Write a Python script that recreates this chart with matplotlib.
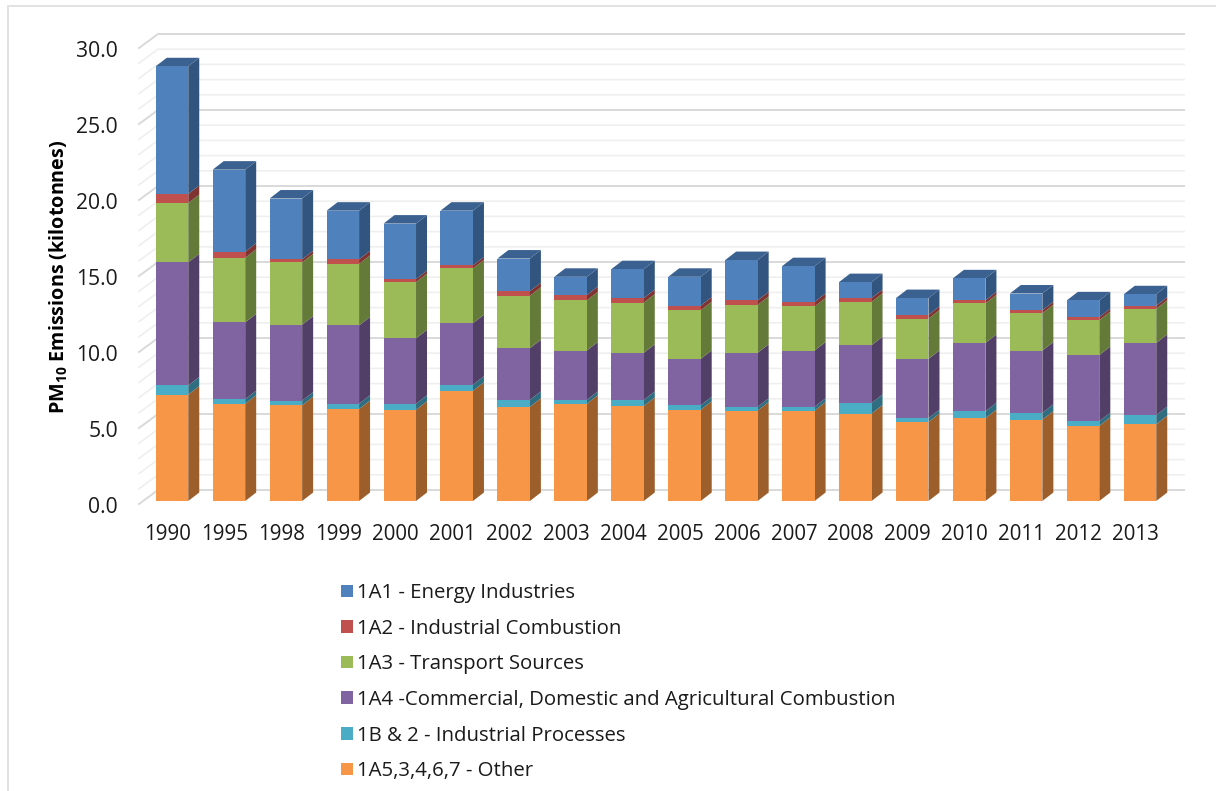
"""PM10 emissions by source sector, drawn as stacked columns with a 3D look."""

import matplotlib

matplotlib.use("Agg")

import matplotlib.pyplot as plt
from matplotlib.lines import Line2D
from matplotlib.patches import Patch
from matplotlib.transforms import ScaledTranslation

plt.rcParams["font.family"] = ["Open Sans", "DejaVu Sans"]
plt.rcParams["mathtext.fontset"] = "custom"
plt.rcParams["mathtext.bf"] = "Open Sans:bold"

W, H = 1216, 791
DPI = 100

years = ["1990", "1995", "1998", "1999", "2000", "2001", "2002", "2003", "2004",
         "2005", "2006", "2007", "2008", "2009", "2010", "2011", "2012", "2013"]

# kilotonnes per sector, bottom of the stack first
other = [7.0, 6.4, 6.3, 6.05, 6.0, 7.25, 6.2, 6.4, 6.25,
         6.0, 5.95, 5.95, 5.75, 5.2, 5.45, 5.35, 4.95, 5.05]
processes = [0.6, 0.3, 0.3, 0.35, 0.4, 0.4, 0.45, 0.25, 0.4,
             0.3, 0.25, 0.25, 0.7, 0.25, 0.45, 0.45, 0.3, 0.6]
domestic = [8.1, 5.05, 5.0, 5.15, 4.3, 4.05, 3.4, 3.25, 3.1,
            3.05, 3.55, 3.7, 3.8, 3.9, 4.5, 4.1, 4.35, 4.75]
transport = [3.9, 4.25, 4.1, 4.05, 3.7, 3.6, 3.45, 3.3, 3.3,
             3.2, 3.15, 2.9, 2.85, 2.65, 2.6, 2.45, 2.3, 2.25]
combustion = [0.6, 0.4, 0.2, 0.3, 0.2, 0.2, 0.3, 0.35, 0.3,
              0.3, 0.3, 0.3, 0.25, 0.25, 0.2, 0.2, 0.2, 0.2]
energy = [8.4, 5.4, 4.0, 3.2, 3.65, 3.6, 2.15, 1.2, 1.9,
          1.9, 2.65, 2.35, 1.05, 1.1, 1.45, 1.1, 1.1, 0.75]

y_ticks = [0, 5, 10, 15, 20, 25, 30]

# label, values, front colour, side colour
series = [
    ("1A5,3,4,6,7 - Other", other, "#F79646", "#9C5F2C"),
    ("1B & 2 - Industrial Processes", processes, "#4BACC6", "#2F6E80"),
    ("1A4 -Commercial, Domestic and Agricultural Combustion", domestic, "#8064A2", "#523F68"),
    ("1A3 - Transport Sources", transport, "#9BBB59", "#647A39"),
    ("1A2 - Industrial Combustion", combustion, "#C0504D", "#7F3432"),
    ("1A1 - Energy Industries", energy, "#4F81BD", "#31557F"),
]
TOP_COLOUR = "#3A6190"

# plot geometry in pixels
X_FIRST, X_LAST = 172.0, 1140.0
Y_ZERO, PX_PER_UNIT = 501.0, 15.2
AX_LEFT, AX_RIGHT = 139.0, 1184.0
WALL_BACK = 158.0

step = (X_LAST - X_FIRST) / (len(years) - 1)
px_x = lambda px: (px - X_FIRST) / step  # pixel column to x data
dy = lambda px: px / PX_PER_UNIT         # pixel height to y data

bar_w = 32.5 / step
depth_x = 11.0 / step
depth_y = dy(8.5)

fig = plt.figure(figsize=(W / DPI, H / DPI), dpi=DPI, facecolor="white")
ax_top = Y_ZERO - 30 * PX_PER_UNIT
ax = fig.add_axes([AX_LEFT / W, 1 - Y_ZERO / H,
                   (AX_RIGHT - AX_LEFT) / W, (Y_ZERO - ax_top) / H])
ax.set_xlim(px_x(AX_LEFT), px_x(AX_RIGHT))
ax.set_ylim(0, 30)
for spine in ax.spines.values():
    spine.set_visible(False)

# back wall and side wall gridlines, one per kilotonne
for v in range(0, 31):
    major = v % 5 == 0
    colour = "#d9d9d9" if major else "#efefef"
    lw = 1.4 if major else 1.2
    front, back = v - dy(3), v + dy(11)
    ax.plot([px_x(AX_LEFT), px_x(WALL_BACK), px_x(AX_RIGHT)], [front, back, back],
            color=colour, lw=lw, clip_on=False, zorder=1, solid_joinstyle="miter")

# stacked columns: front face, then the shaded side and top
base = [0.0] * len(years)
for label, values, front_col, side_col in series:
    ax.bar(range(len(years)), values, bar_w, bottom=base, color=front_col,
           linewidth=0, zorder=3)
    for i, v in enumerate(values):
        r = i + bar_w / 2
        ax.fill([r, r + depth_x, r + depth_x, r],
                [base[i], base[i] + depth_y, base[i] + v + depth_y, base[i] + v],
                color=side_col, lw=0, clip_on=False, zorder=2.5)
    base = [b + v for b, v in zip(base, values)]

for i, total in enumerate(base):
    l, r = i - bar_w / 2, i + bar_w / 2
    ax.fill([l, r, r + depth_x, l + depth_x],
            [total, total, total + depth_y, total + depth_y],
            color=TOP_COLOUR, lw=0, clip_on=False, zorder=2.5)

ax.set_yticks(y_ticks, [f"{t:.1f}" for t in y_ticks])
ax.set_xticks(range(len(years)), years)
ax.tick_params(axis="y", length=0, pad=15, labelsize=15.2, labelcolor="#1a1a1a")
ax.tick_params(axis="x", length=0, pad=16.5, labelsize=14.8, labelcolor="#1a1a1a")

# nudge tick labels off the axis anchors
for lab in ax.get_yticklabels():
    lab.set_transform(lab.get_transform() + ScaledTranslation(0, -4 / DPI, fig.dpi_scale_trans))
for lab in ax.get_xticklabels():
    lab.set_transform(lab.get_transform() + ScaledTranslation(-4.5 / DPI, 0, fig.dpi_scale_trans))

ax.set_ylabel(r"PM$_{\mathbf{10}}$ Emissions (kilotonnes)", fontsize=14.2,
              fontweight="bold", color="black")
ax.yaxis.set_label_coords((70 - AX_LEFT) / (AX_RIGHT - AX_LEFT),
                          (Y_ZERO - 277) / (Y_ZERO - ax_top))

handles = [Patch(facecolor=s[2], label=s[0]) for s in reversed(series)]
fig.legend(handles=handles, loc="upper left", frameon=False,
           bbox_to_anchor=(337 / W, 1 - 579 / H), borderaxespad=0, borderpad=0.2,
           fontsize=14.7, labelspacing=0.765, handlelength=0.57, handleheight=0.57,
           handletextpad=0.22, labelcolor="#1a1a1a")

# thin frame along the top and left edges
for xs, ys in [((8, W), (6, 6)), ((8, 8), (6, H))]:
    fig.add_artist(Line2D([x / W for x in xs], [1 - y / H for y in ys],
                          color="#e2e2e2", lw=1.4))

fig.savefig("out.png", dpi=DPI)
plt.close(fig)
